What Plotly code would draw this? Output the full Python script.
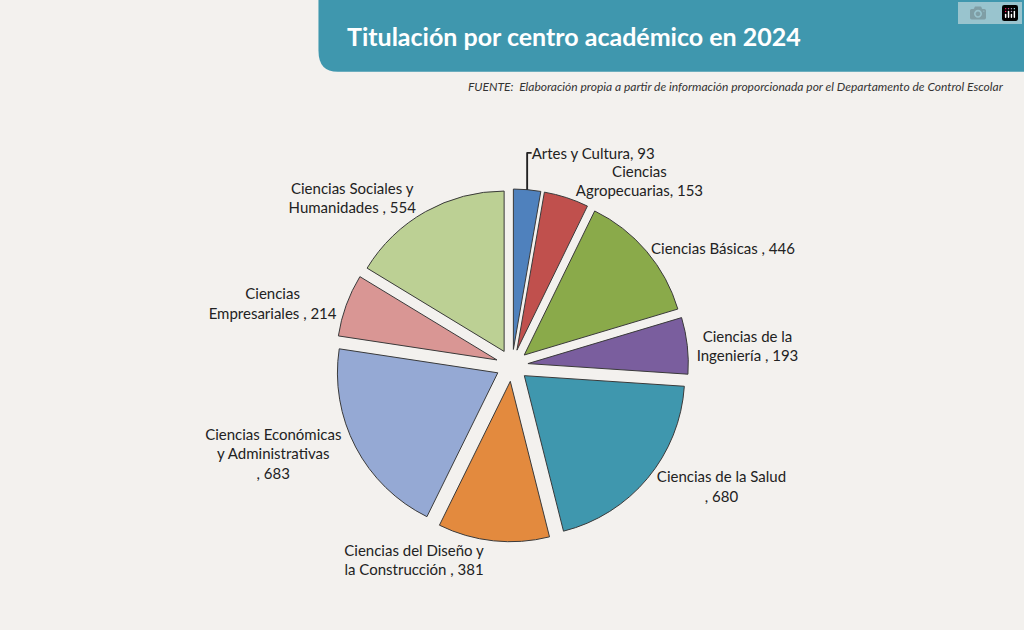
import plotly.graph_objects as go

categories = ["Artes y Cultura", "Ciencias<br>Agropecuarias", "Ciencias Básicas ", "Ciencias de la<br>Ingeniería ",
              "Ciencias de la Salud<br>", "Ciencias del Diseño y<br>la Construcción ",
              "Ciencias Económicas<br>y Administrativas<br>", "Ciencias<br>Empresariales ", "Ciencias Sociales y<br>Humanidades "]
values = [93, 153, 446, 193, 680, 381, 683, 214, 554]
colors = ["#4F81BD", "#C0504D", "#8AAA4A", "#7A5E9E", "#3F97AE", "#E38A3E", "#95A9D4", "#D99694", "#BCD094"]

fig = go.Figure(go.Pie(
    labels=categories, values=values, sort=False, direction="clockwise", rotation=0,
    marker=dict(colors=colors, line=dict(color="#3a3a3a", width=1)),
    pull=[0.1] * len(values),
    texttemplate="%{label}, %{value}", textposition="outside",
    textfont=dict(size=15, color="#222", family="Lato"),
    showlegend=False, domain=dict(x=[0.3, 0.7], y=[0.14, 0.70]),
))

fig.update_layout(
    width=1024, height=630, margin=dict(l=0, r=0, t=0, b=0),
    paper_bgcolor="#F3F1EE", plot_bgcolor="#F3F1EE",
    shapes=[dict(type="path", xref="paper", yref="paper",
                 path="M 0.311,1 L 1,1 L 1,0.886 L 0.330,0.886 Q 0.311,0.886 0.311,0.92 Z",
                 fillcolor="#3F97AE", line=dict(width=0))],
    annotations=[
        dict(text="<b>Titulación por centro académico en 2024</b>", x=0.337, y=0.943, xref="paper", yref="paper",
             xanchor="left", yanchor="middle", showarrow=False, font=dict(size=25, color="white", family="Lato")),
        dict(text="<i>FUENTE:  Elaboración propia a partir de información proporcionada por el Departamento de Control Escolar</i>",
             x=0.982, y=0.862, xref="paper", yref="paper", xanchor="right", yanchor="middle", showarrow=False,
             font=dict(size=12, color="#333", family="Lato")),
    ],
)
fig.write_html("out.html")
with open("out.html", encoding="utf-8") as f:
    html = f.read()
html = html.replace("<head>", "<head><style>html,body{margin:0;padding:0;background:#F3F1EE;overflow:hidden}</style>", 1)
with open("out.html", "w", encoding="utf-8") as f:
    f.write(html)
